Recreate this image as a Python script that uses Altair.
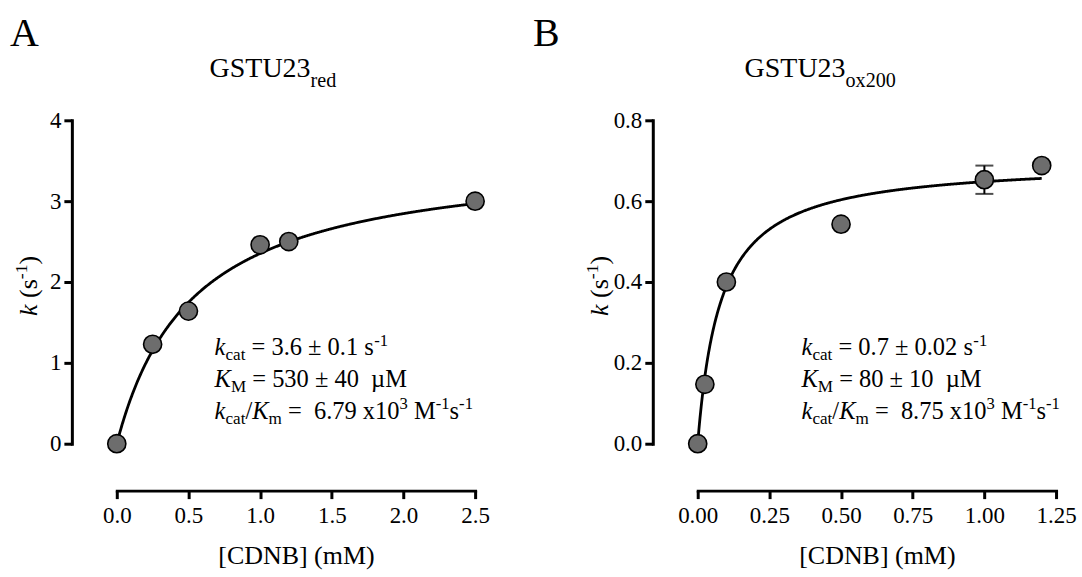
import altair as alt
import pandas as pd

# [CDNB] (mM) and observed rate constants k (s^-1)
red_conc = [0.0, 0.25, 0.5, 1.0, 1.2, 2.5]
red_k = [0.0, 1.23, 1.64, 2.46, 2.50, 3.00]
ox_conc = [0.0, 0.025, 0.1, 0.5, 1.0, 1.2]
ox_k = [0.0, 0.147, 0.400, 0.543, 0.653, 0.688]
ox_err = [0.0, 0.0, 0.0, 0.0, 0.035, 0.0]

# Michaelis-Menten parameters (kcat in s^-1, KM in mM)
red_kcat, red_km = 3.6, 0.53
ox_kcat, ox_km = 0.7, 0.08

red_xticks = [0, 0.5, 1.0, 1.5, 2.0, 2.5]
red_yticks = [0, 1, 2, 3, 4]
ox_xticks = [0, 0.25, 0.5, 0.75, 1.0, 1.25]
ox_yticks = [0, 0.2, 0.4, 0.6, 0.8]

x_title = "[CDNB] (mM)"
title_main = "GSTU23"

# rich-text lines: (text, style) with style n=normal, i=italic, sub, sup
red_lines = [
    [("k", "i"), ("cat", "sub"), (" = 3.6 ± 0.1 s", "n"), ("-1", "sup")],
    [("K", "i"), ("M", "sub"), (" = 530 ± 40  µM", "n")],
    [("k", "i"), ("cat", "sub"), ("/", "n"), ("K", "i"), ("m", "sub"),
     (" =  6.79 x10", "n"), ("3", "sup"), (" M", "n"), ("-1", "sup"),
     ("s", "n"), ("-1", "sup")],
]
ox_lines = [
    [("k", "i"), ("cat", "sub"), (" = 0.7 ± 0.02 s", "n"), ("-1", "sup")],
    [("K", "i"), ("M", "sub"), (" = 80 ± 10  µM", "n")],
    [("k", "i"), ("cat", "sub"), ("/", "n"), ("K", "i"), ("m", "sub"),
     (" =  8.75 x10", "n"), ("3", "sup"), (" M", "n"), ("-1", "sup"),
     ("s", "n"), ("-1", "sup")],
]
ytitle_segs = [("k", "i"), (" (s", "n"), ("-1", "sup"), (")", "n")]

SERIF = "Liberation Serif"
INK = "black"
DOT = "#6d6d6d"

# advance widths (1/1000 em) for the serif face
ADV = {" ": 250, "(": 333, ")": 333, "-": 333, ".": 250, "/": 278, "=": 564,
       "±": 564, "µ": 500, "x": 500, "M": 889, "s": 389, "c": 444, "a": 444,
       "t": 278, "m": 778, "r": 333, "e": 444, "d": 500, "o": 500, "G": 722,
       "S": 556, "T": 611, "U": 722, "K": 722, "A": 722, "B": 667}
ADV_IT = {"k": 444, "K": 667}

STYLE = {
    "n": (1.0, 0.0, "normal"),
    "i": (1.0, 0.0, "italic"),
    "sub": (0.70, 0.22, "normal"),
    "sup": (0.68, -0.38, "normal"),
    "tsub": (0.72, 0.34, "normal"),
}

ONE = alt.Data(values=[{"n": 1}])


def advance(text, italic):
    total = 0
    for ch in text:
        if italic and ch in ADV_IT:
            total += ADV_IT[ch]
        elif ch.isdigit():
            total += 500
        else:
            total += ADV.get(ch, 500)
    return total / 1000.0


def rich_text(segments, x0, y0, size, vertical=False):
    """Lay out styled runs one after another, each as its own text mark."""
    layers = []
    pos = 0.0
    for text, kind in segments:
        scale, shift, style = STYLE[kind]
        fs = size * scale
        dy = shift * size
        italic = style == "italic"
        # leading blanks are not drawn, only skipped
        body = text.lstrip(" ")
        pos += advance(text[: len(text) - len(body)], italic) * fs
        if vertical:
            x, y, angle = x0 + dy, y0 - pos, 270
        else:
            x, y, angle = x0 + pos, y0 + dy, 0
        layers.append(
            alt.Chart(ONE).mark_text(
                text=body.replace(" ", "\u00a0"), font=SERIF, fontSize=fs,
                fontStyle=style, align="left", baseline="alphabetic",
                angle=angle, color=INK,
            ).encode(x=alt.value(x), y=alt.value(y))
        )
        pos += advance(body, italic) * fs
    return layers


W, H = 359, 324


def panel(conc, k, err, kcat, km, xdom, ydom, xticks, yticks, xfmt, yfmt,
          letter, sub, lines, letter_dx, title_dx, note_dx, ytitle_dx):
    df = pd.DataFrame({"c": conc, "k": k, "e": err})
    X = alt.X("c:Q", scale=alt.Scale(domain=xdom, nice=False, zero=False),
              axis=alt.Axis(values=xticks, format=xfmt, offset=47, title=x_title,
                            labelPadding=6, titlePadding=15, labelFlush=False))
    Y = alt.Y("k:Q", scale=alt.Scale(domain=ydom, nice=False, zero=False),
              axis=alt.Axis(values=yticks, format=yfmt, offset=45, title=None,
                            labelPadding=3, labelFlush=False))

    step = (conc[-1]) / 600.0
    curve = alt.Chart(alt.sequence(0, conc[-1] + step / 2, step, as_="c")).transform_calculate(
        k=f"{kcat} * datum.c / ({km} + datum.c)"
    ).mark_line(color=INK, strokeWidth=2.8).encode(x=X, y=Y)

    bars = alt.Chart(df).transform_filter("datum.e > 0").transform_calculate(
        lo="datum.k - datum.e", hi="datum.k + datum.e"
    )
    bar_rule = bars.mark_rule(color=INK, strokeWidth=2).encode(
        x=X, y=alt.Y("lo:Q"), y2="hi:Q")
    bar_caps = bars.transform_fold(["lo", "hi"]).mark_tick(
        orient="horizontal", size=18, thickness=2, color=INK
    ).encode(x=X, y=alt.Y("value:Q"))

    dots = alt.Chart(df).mark_circle(
        size=330, color=DOT, stroke=INK, strokeWidth=1.6, opacity=1
    ).encode(x=X, y=Y)

    texts = []
    texts += rich_text([(letter, "n")], letter_dx, -74, 40)
    texts += rich_text([(title_main, "n"), (sub, "tsub")], title_dx, -43, 28)
    for i, ln in enumerate(lines):
        texts += rich_text(ln, note_dx, 235 + i * 32, 24.5)
    texts += rich_text(ytitle_segs, ytitle_dx, 196, 26, vertical=True)

    return alt.layer(curve, bar_rule, bar_caps, dots, *texts).properties(
        width=W, height=H)


left = panel(red_conc, red_k, [0.0] * len(red_conc), red_kcat, red_km,
             [0, 2.5], [0, 4], red_xticks, red_yticks, ".1f", "d",
             "A", "red", red_lines, -107, 93, 98, -80)
right = panel(ox_conc, ox_k, ox_err, ox_kcat, ox_km,
              [0, 1.25], [0, 0.8], ox_xticks, ox_yticks, ".2f", ".1f",
              "B", "ox200", ox_lines, -165, 47, 104, -90)

chart = alt.hconcat(left, right, spacing=43).properties(
    padding={"left": 10, "top": 14, "right": 5, "bottom": 5},
    background="white",
).configure_view(strokeWidth=0).configure_axis(
    grid=False, domainColor=INK, domainWidth=3, domainCap="square",
    tickColor=INK, tickWidth=3, tickSize=8,
    labelFont=SERIF, labelFontSize=23, labelColor=INK,
    titleFont=SERIF, titleFontSize=26, titleFontWeight="normal", titleColor=INK,
)

chart.save("out.html", embed_options={"renderer": "svg", "actions": False})
